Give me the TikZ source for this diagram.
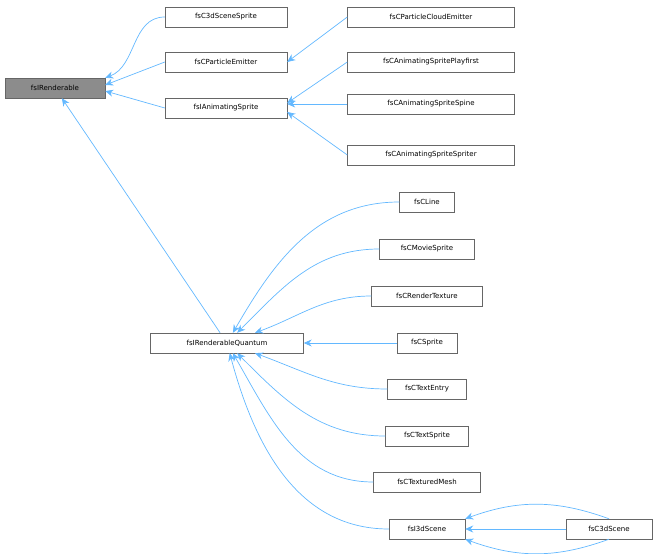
\documentclass[tikz,border=0pt]{standalone}
\usepackage{fontspec}
\setmainfont{DejaVu Sans}
\usetikzlibrary{arrows.meta}
\begin{document}
\begin{tikzpicture}[x=1pt,y=-1pt,
  box/.style={draw=black!60,fill=white,minimum height=20pt,inner xsep=3pt,font=\fontsize{7}{8}\selectfont,anchor=center},
  e/.style={draw={rgb,255:red,99;green,184;blue,255},line width=0.7pt,{Stealth[length=8pt,width=7pt,fill={rgb,255:red,99;green,184;blue,255}]}-}]
\useasboundingbox (0,0) rectangle (657,554);
\node[box,fill=black!45,minimum width=100pt] (r) at (55,88) {fsIRenderable};
\node[box,minimum width=122pt] (s3) at (226,17) {fsC3dSceneSprite};
\node[box,minimum width=122pt] (pe) at (226,62) {fsCParticleEmitter};
\node[box,minimum width=122pt] (as) at (226,108) {fsIAnimatingSprite};
\node[box,minimum width=167pt] (pc) at (431,17) {fsCParticleCloudEmitter};
\node[box,minimum width=167pt] (pf) at (431,62) {fsCAnimatingSpritePlayfirst};
\node[box,minimum width=167pt] (sp) at (431,104) {fsCAnimatingSpriteSpine};
\node[box,minimum width=167pt] (spr) at (431,155) {fsCAnimatingSpriteSpriter};
\node[box,minimum width=153pt] (q) at (227,343) {fsIRenderableQuantum};
\node[box,minimum width=55pt] (l) at (427,202) {fsCLine};
\node[box,minimum width=95pt] (ms) at (427,249) {fsCMovieSprite};
\node[box,minimum width=111pt] (rt) at (427,296) {fsCRenderTexture};
\node[box,minimum width=60pt] (cs) at (427,343) {fsCSprite};
\node[box,minimum width=79pt] (te) at (427,389) {fsCTextEntry};
\node[box,minimum width=83pt] (ts) at (427,436) {fsCTextSprite};
\node[box,minimum width=107pt] (tm) at (427,482) {fsCTexturedMesh};
\node[box,minimum width=76pt] (i3) at (427,529) {fsI3dScene};
\node[box,minimum width=86pt] (c3) at (609,529) {fsC3dScene};
\draw[e] (r.north east) to[out=20,in=180] (s3.west);
\draw[e] (r.east) ++(0,-3) -- (pe.west);
\draw[e] (r.east) ++(0,3) -- (as.west);
\draw[e] (r) -- (q);
\draw[e] (pe.east) -- (pc.west);
\draw[e] (as.east) ++(0,-5) -- (pf.west);
\draw[e] (as.east) ++(0,-4) -- (sp.west);
\draw[e] (as.east) ++(0,4) -- (spr.west);
\draw[e] (q) to[out=60,in=180] (l.west);
\draw[e] (q) to[out=45,in=180] (ms.west);
\draw[e] (q) to[out=20,in=180] (rt.west);
\draw[e] (q.east) -- (cs.west);
\draw[e] (q) to[out=-20,in=180] (te.west);
\draw[e] (q) to[out=-45,in=180] (ts.west);
\draw[e] (q) to[out=-60,in=180] (tm.west);
\draw[e] (q) to[out=-75,in=180] (i3.west);
\draw[e] (i3.east) -- (c3.west);
\draw[e] (i3.north east) to[out=20,in=160] (c3.north);
\draw[e] (i3.south east) to[out=-20,in=-160] (c3.south);
\end{tikzpicture}
\end{document}
